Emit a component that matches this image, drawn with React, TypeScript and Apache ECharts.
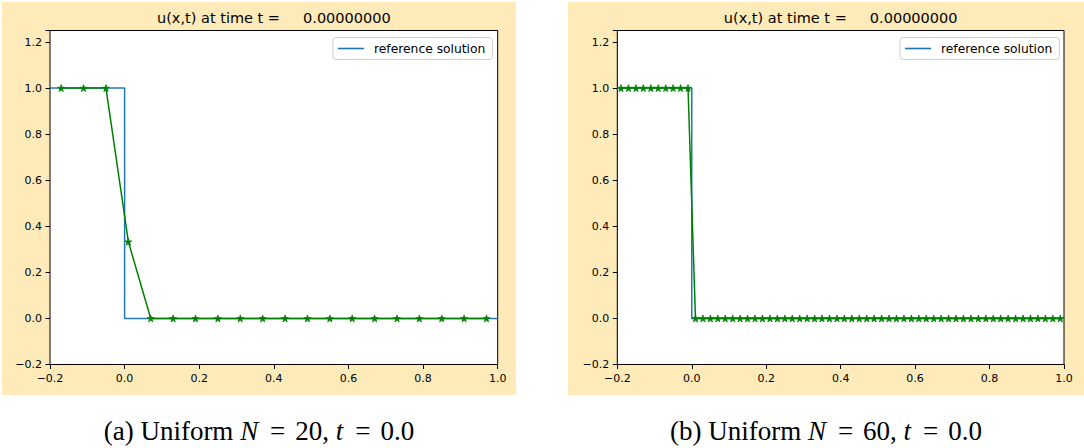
import React, { useEffect, useRef } from "react";
import * as echarts from "echarts";

// Reference (exact) solution: step at x = 0
const refX = [-0.2, 0.0, 0.0, 1.0];
const refU = [1, 1, 0, 0];

// Uniform N = 20 cell centres and values
const xN20 = [-0.17, -0.11, -0.05, 0.01, 0.07, 0.13, 0.19, 0.25, 0.31, 0.37, 0.43, 0.49, 0.55, 0.61, 0.67, 0.73, 0.79, 0.85, 0.91, 0.97];
const uN20 = [1, 1, 1, 0.333, 0, 0, 0, 0, 0, 0, 0, 0, 0, 0, 0, 0, 0, 0, 0, 0];

// Uniform N = 60 cell centres and values
const xN60 = [
  -0.19, -0.17, -0.15, -0.13, -0.11, -0.09, -0.07, -0.05, -0.03, -0.01,
  0.01, 0.03, 0.05, 0.07, 0.09, 0.11, 0.13, 0.15, 0.17, 0.19,
  0.21, 0.23, 0.25, 0.27, 0.29, 0.31, 0.33, 0.35, 0.37, 0.39,
  0.41, 0.43, 0.45, 0.47, 0.49, 0.51, 0.53, 0.55, 0.57, 0.59,
  0.61, 0.63, 0.65, 0.67, 0.69, 0.71, 0.73, 0.75, 0.77, 0.79,
  0.81, 0.83, 0.85, 0.87, 0.89, 0.91, 0.93, 0.95, 0.97, 0.99,
];
const uN60 = [
  1, 1, 1, 1, 1, 1, 1, 1, 1, 1,
  0, 0, 0, 0, 0, 0, 0, 0, 0, 0,
  0, 0, 0, 0, 0, 0, 0, 0, 0, 0,
  0, 0, 0, 0, 0, 0, 0, 0, 0, 0,
  0, 0, 0, 0, 0, 0, 0, 0, 0, 0,
  0, 0, 0, 0, 0, 0, 0, 0, 0, 0,
];

const titleText = "u(x,t) at time t =     0.00000000";
const legendName = "reference solution";
const captions = [
  { label: "(a) Uniform ", n: "20", t: "0.0" },
  { label: "(b) Uniform ", n: "60", t: "0.0" },
];

const STAR = "path://M50,0 L61,35 L98,35 L68,57 L79,91 L50,70 L21,91 L32,57 L2,35 L39,35 Z";
const FONT = "DejaVu Sans";
const SERIF = "Liberation Serif";

const fmt = (v: number) => {
  if (Math.abs(v - 1.25) < 1e-9) return "";
  const s = (Math.round(v * 10) / 10).toFixed(1);
  return s.startsWith("-") ? "\u2212" + s.slice(1) : s;
};

const zip = (xs: number[], ys: number[]) => xs.map((x, i) => [x, ys[i]]);

export default function App() {
  const ref = useRef<HTMLDivElement>(null);
  useEffect(() => {
    document.body.style.margin = "0";
    const chart = echarts.init(ref.current!, undefined, { renderer: "svg" });
    const grids = [
      { left: 50, top: 30.5, width: 447.7, height: 334 },
      { left: 617.3, top: 30.5, width: 446.7, height: 334 },
    ];
    const panels = [
      { x: 2, w: 514 },
      { x: 568, w: 516 },
    ];
    const axisCommon = {
      axisLine: { show: true, onZero: false, lineStyle: { color: "#000", width: 1 } },
      axisTick: { show: true, inside: false, length: 4.5, lineStyle: { color: "#000", width: 1 } },
      axisLabel: { color: "#000", fontFamily: FONT, fontSize: 11, formatter: fmt },
      splitLine: { show: false },
    };
    const numSeries = (xs: number[], ys: number[], idx: number) => ({
      name: "numerical " + idx,
      type: "line",
      xAxisIndex: idx,
      yAxisIndex: idx,
      data: zip(xs, ys),
      symbol: STAR,
      symbolSize: 7,
      lineStyle: { color: "#008000", width: 1.5 },
      itemStyle: { color: "#008000", borderColor: "#008000", borderWidth: 0.8 },
      z: 3,
    });
    const refSeries = (idx: number) => ({
      name: legendName,
      type: "line",
      xAxisIndex: idx,
      yAxisIndex: idx,
      data: zip(refX, refU),
      symbol: "none",
      lineStyle: { color: "#1f77b4", width: 1.5 },
      itemStyle: { color: "#1f77b4" },
      z: 2,
    });
    const option: any = {
      animation: false,
      grid: grids.map((g) => ({
        ...g,
        show: true,
        backgroundColor: "#fff",
        borderColor: "#000",
        borderWidth: 1,
        z: 1,
      })),
      xAxis: grids.map((_, i) => ({
        type: "value",
        gridIndex: i,
        min: -0.2,
        max: 1.0,
        interval: 0.2,
        ...axisCommon,
        axisLabel: { ...axisCommon.axisLabel, margin: 8 },
      })),
      yAxis: grids.map((_, i) => ({
        type: "value",
        gridIndex: i,
        min: -0.2,
        max: 1.25,
        interval: 0.2,
        ...axisCommon,
        axisLabel: { ...axisCommon.axisLabel, margin: 8 },
      })),
      legend: [
        { left: 333, top: 37.5 },
        { left: 900, top: 37.5 },
      ].map((p) => ({
        ...p,
        data: [legendName],
        orient: "vertical",
        icon: "rect",
        padding: [4, 7, 4, 5],
        itemWidth: 26,
        itemHeight: 1.6,
        borderColor: "#cccccc",
        borderWidth: 1,
        borderRadius: 3,
        backgroundColor: "rgba(255,255,255,0.8)",
        textStyle: { fontFamily: FONT, fontSize: 12.3, color: "#000", padding: [0, 0, 0, 5], lineHeight: 14 },
      })),
      series: [refSeries(0), numSeries(xN20, uN20, 0), refSeries(1), numSeries(xN60, uN60, 1)],
      graphic: [
        ...panels.map((p) => ({
          type: "rect",
          z: -10,
          silent: true,
          shape: { x: p.x, y: 2, width: p.w, height: 393 },
          style: { fill: "#FFEBBA" },
        })),
        ...grids.map((g) => ({
          type: "text",
          z: 10,
          x: g.left + g.width / 2,
          y: 18,
          style: {
            text: titleText,
            font: `14.5px "${FONT}"`,
            fill: "#000",
            align: "center",
            verticalAlign: "middle",
          },
        })),
        ...captions.map((c, i) => ({
          type: "text",
          z: 10,
          x: panels[i].x + panels[i].w / 2,
          y: 431,
          style: {
            text: `{n|${c.label}}{i|N}{m|=}{n|${c.n},} {i|t}{m|=}{n|${c.t}}`,
            align: "center",
            verticalAlign: "middle",
            font: `27px "${SERIF}"`,
            fill: "#000",
            rich: {
              n: { fontFamily: SERIF, fontSize: 27, fill: "#000" },
              i: { fontFamily: SERIF, fontSize: 27, fontStyle: "italic", fill: "#000", padding: [0, 2, 0, 0] },
              m: { fontFamily: SERIF, fontSize: 27, fill: "#000", padding: [0, 10, 0, 10] },
            },
          },
        })),
      ],
    };
    chart.setOption(option);
    return () => chart.dispose();
  }, []);
  return <div ref={ref} style={{ width: 1084, height: 448 }} />;
}
